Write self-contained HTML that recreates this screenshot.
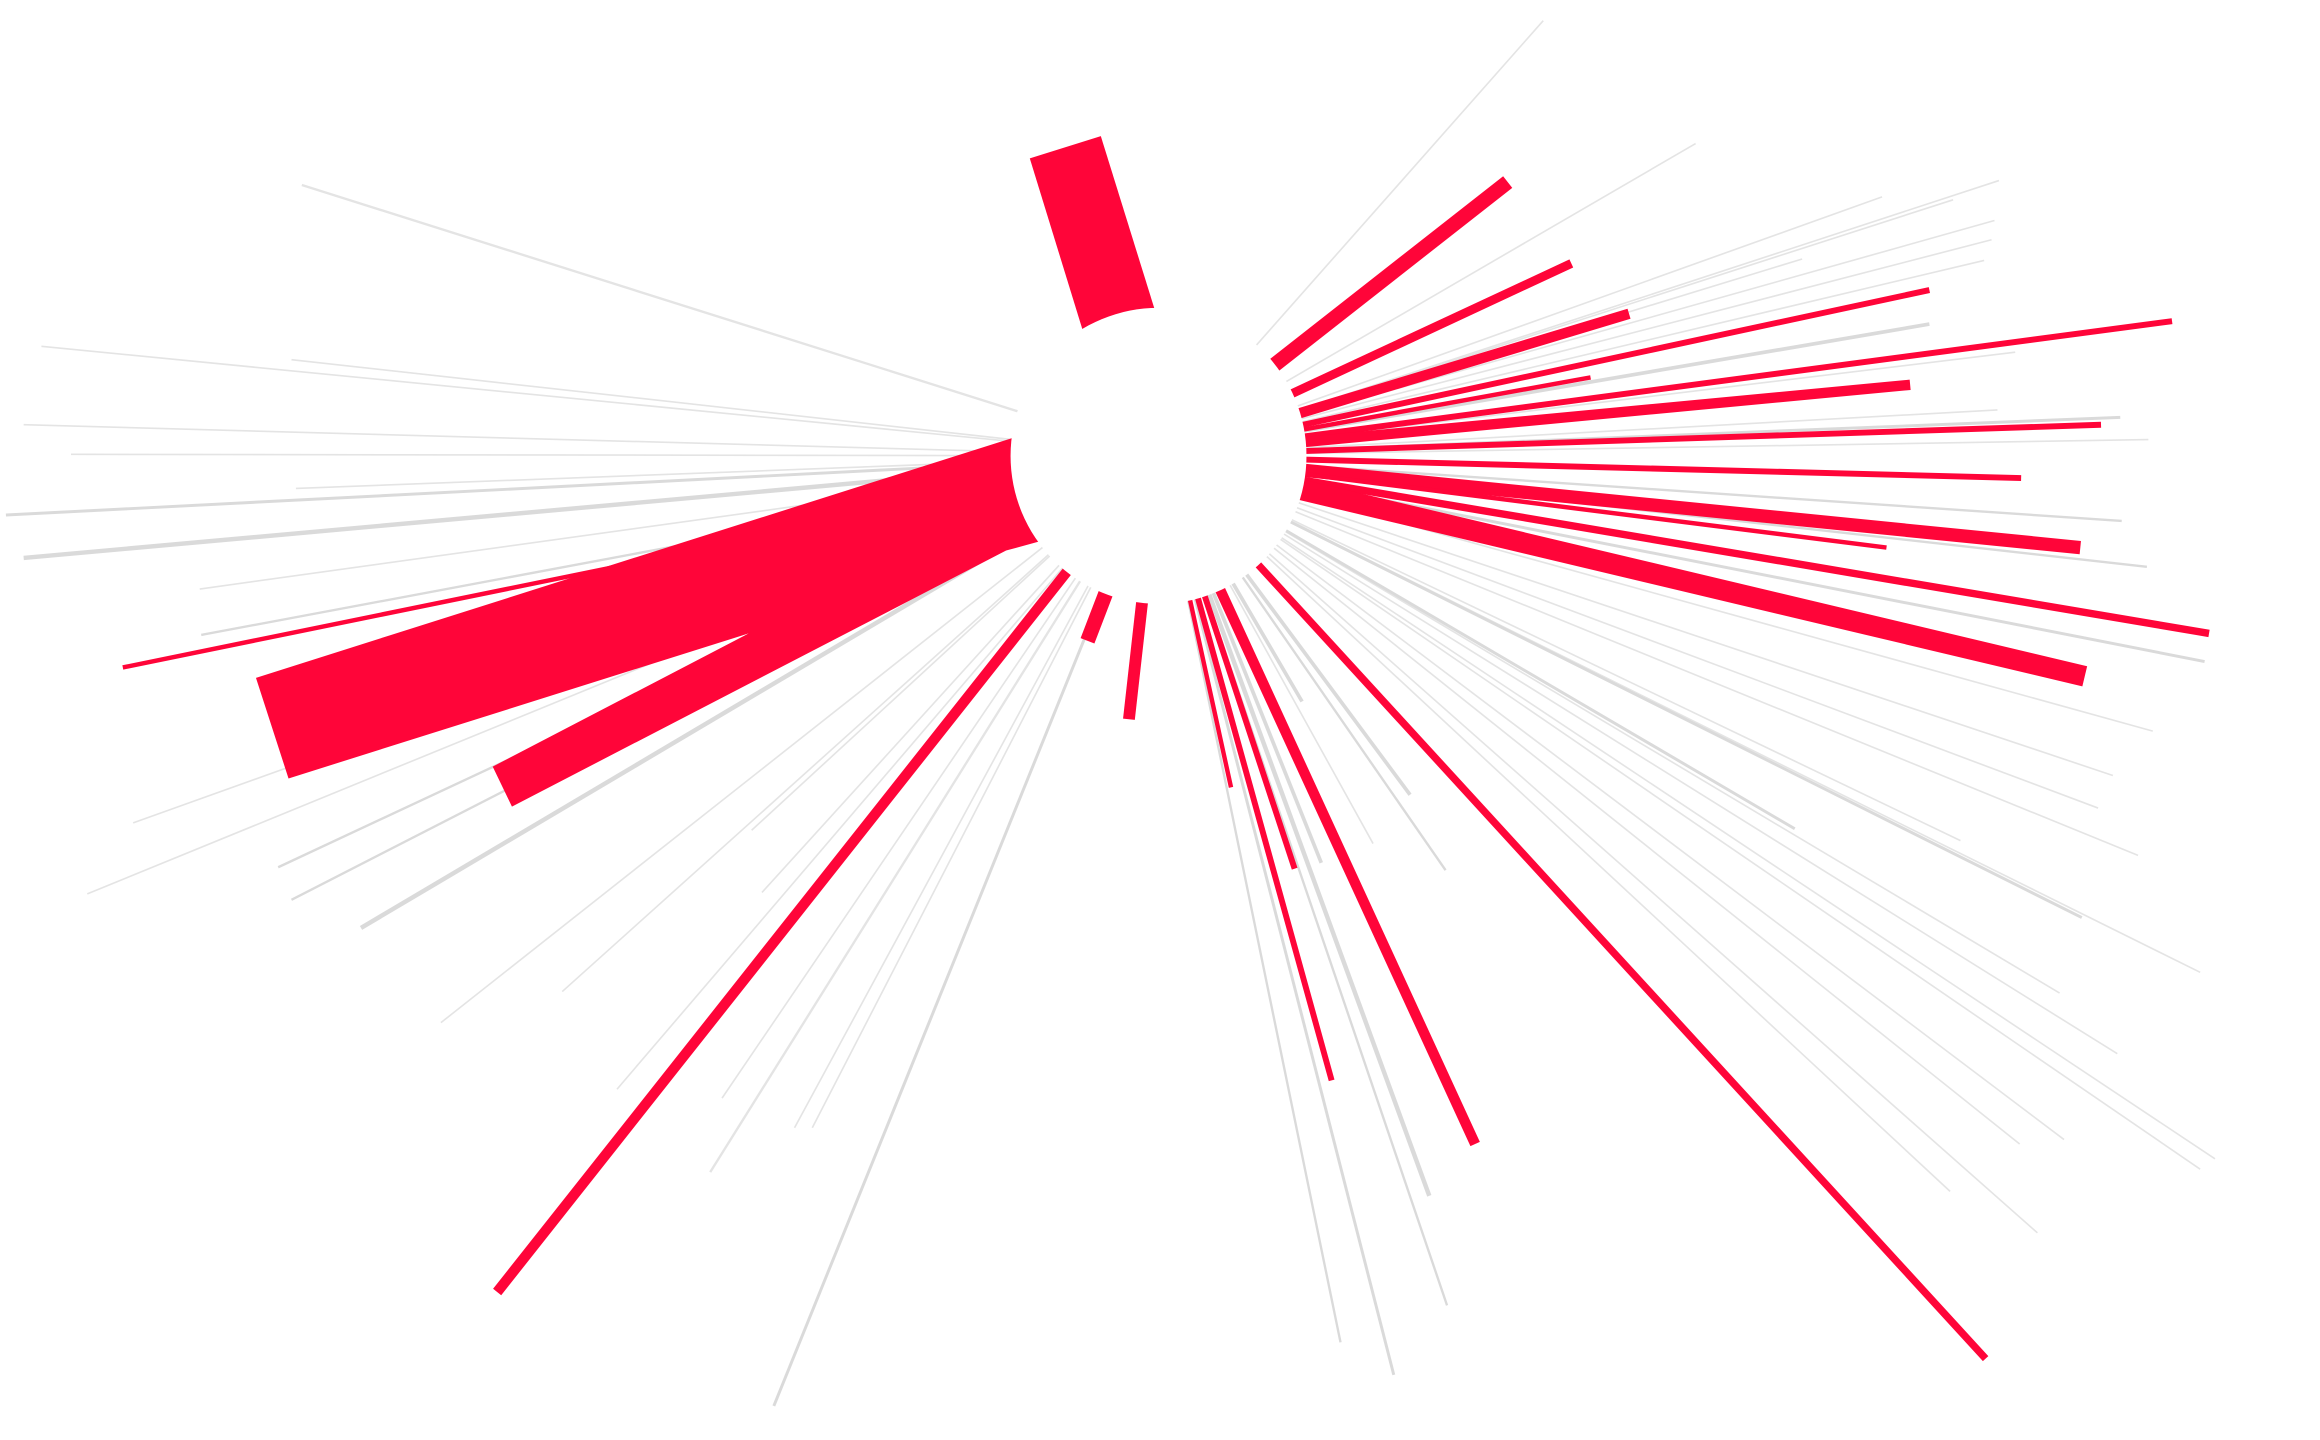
<!DOCTYPE html>
<html><head><meta charset="utf-8"><style>html,body{margin:0;padding:0;background:#fff;width:2320px;height:1440px;overflow:hidden}svg{display:block}</style></head>
<body>
<svg width="2320" height="1440" viewBox="0 0 1568 973" preserveAspectRatio="none" xmlns="http://www.w3.org/2000/svg">
<rect width="1568" height="973" fill="#fff"/>
<g stroke="#e4e4e4" stroke-width="1.1" fill="none">
<line x1="783" y1="308" x2="1043" y2="14"/>
<line x1="783" y1="308" x2="1146" y2="97"/>
<line x1="783" y1="308" x2="1272" y2="133"/>
<line x1="783" y1="308" x2="1351" y2="122"/>
<line x1="783" y1="308" x2="1320" y2="135"/>
<line x1="783" y1="308" x2="1348" y2="149"/>
<line x1="783" y1="308" x2="1346" y2="162"/>
<line x1="783" y1="308" x2="1341" y2="176"/>
<line x1="783" y1="308" x2="1218" y2="175"/>
<line x1="783" y1="308" x2="1304" y2="219" stroke-width="2.5" stroke="#dadada"/>
<line x1="783" y1="308" x2="1362" y2="238"/>
<line x1="783" y1="308" x2="1350" y2="277"/>
<line x1="783" y1="308" x2="1433" y2="282" stroke-width="2" stroke="#dadada"/>
<line x1="783" y1="308" x2="1452" y2="297"/>
<line x1="783" y1="308" x2="1434" y2="352" stroke-width="1.6" stroke="#dadada"/>
<line x1="783" y1="308" x2="1451" y2="383" stroke-width="1.6" stroke="#dadada"/>
<line x1="783" y1="308" x2="1490" y2="447" stroke-width="2" stroke="#dadada"/>
<line x1="783" y1="308" x2="1455" y2="494"/>
<line x1="783" y1="308" x2="1428" y2="524"/>
<line x1="783" y1="308" x2="1418" y2="546"/>
<line x1="783" y1="308" x2="1445" y2="578"/>
<line x1="783" y1="308" x2="1487" y2="657"/>
<line x1="783" y1="308" x2="1407" y2="620" stroke-width="2" stroke="#dadada"/>
<line x1="783" y1="308" x2="1392" y2="671"/>
<line x1="783" y1="308" x2="1431" y2="712"/>
<line x1="783" y1="308" x2="1395" y2="770"/>
<line x1="783" y1="308" x2="1365" y2="773"/>
<line x1="783" y1="308" x2="1497" y2="783"/>
<line x1="783" y1="308" x2="1487" y2="790"/>
<line x1="783" y1="308" x2="1377" y2="833"/>
<line x1="783" y1="308" x2="1318" y2="805"/>
<line x1="783" y1="308" x2="1325" y2="568"/>
<line x1="783" y1="308" x2="1213" y2="560" stroke-width="2" stroke="#dadada"/>
<line x1="783" y1="308" x2="977" y2="588" stroke-width="1.6" stroke="#dadada"/>
<line x1="783" y1="308" x2="953" y2="537" stroke-width="2.5" stroke="#dadada"/>
<line x1="783" y1="308" x2="928" y2="570"/>
<line x1="783" y1="308" x2="893" y2="583" stroke-width="2.5" stroke="#dadada"/>
<line x1="783" y1="308" x2="880" y2="474" stroke-width="2.5" stroke="#dadada"/>
<line x1="783" y1="308" x2="966" y2="808" stroke-width="3" stroke="#dadada"/>
<line x1="783" y1="308" x2="978" y2="882" stroke-width="1.6" stroke="#dadada"/>
<line x1="783" y1="308" x2="942" y2="929" stroke-width="2" stroke="#dadada"/>
<line x1="783" y1="308" x2="906" y2="907" stroke-width="1.6" stroke="#dadada"/>
<line x1="783" y1="308" x2="523" y2="950" stroke-width="2" stroke="#dadada"/>
<line x1="783" y1="308" x2="549" y2="762"/>
<line x1="783" y1="308" x2="537" y2="762"/>
<line x1="783" y1="308" x2="480" y2="792" stroke-width="1.6"/>
<line x1="783" y1="308" x2="488" y2="742"/>
<line x1="783" y1="308" x2="417" y2="736"/>
<line x1="783" y1="308" x2="515" y2="603"/>
<line x1="783" y1="308" x2="508" y2="561"/>
<line x1="783" y1="308" x2="380" y2="670"/>
<line x1="783" y1="308" x2="298" y2="691"/>
<line x1="783" y1="308" x2="244" y2="627" stroke-width="3" stroke="#dadada"/>
<line x1="783" y1="308" x2="197" y2="608" stroke-width="1.6" stroke="#dadada"/>
<line x1="783" y1="308" x2="188" y2="586" stroke-width="1.6" stroke="#dadada"/>
<line x1="783" y1="308" x2="59" y2="604"/>
<line x1="783" y1="308" x2="90" y2="556"/>
<line x1="783" y1="308" x2="136" y2="429" stroke-width="1.6" stroke="#dadada"/>
<line x1="783" y1="308" x2="135" y2="398"/>
<line x1="783" y1="308" x2="16" y2="377" stroke-width="3" stroke="#dadada"/>
<line x1="783" y1="308" x2="4" y2="348" stroke-width="2" stroke="#dadada"/>
<line x1="783" y1="308" x2="200" y2="330"/>
<line x1="783" y1="308" x2="48" y2="307"/>
<line x1="783" y1="308" x2="16" y2="287"/>
<line x1="783" y1="308" x2="28" y2="234"/>
<line x1="783" y1="308" x2="197" y2="243"/>
<line x1="783" y1="308" x2="204" y2="125" stroke-width="1.6"/>
</g>
<g stroke="#ff0539" fill="none">
<line x1="783" y1="308" x2="1019" y2="123" stroke-width="10"/>
<line x1="783" y1="308" x2="1062" y2="178" stroke-width="6"/>
<line x1="783" y1="308" x2="1101" y2="212" stroke-width="7"/>
<line x1="783" y1="308" x2="1304" y2="196" stroke-width="4"/>
<line x1="783" y1="308" x2="1075" y2="255" stroke-width="3"/>
<line x1="783" y1="308" x2="1468" y2="217" stroke-width="4"/>
<line x1="783" y1="308" x2="1291" y2="260" stroke-width="7"/>
<line x1="783" y1="308" x2="1420" y2="287" stroke-width="4"/>
<line x1="783" y1="308" x2="1366" y2="323" stroke-width="4"/>
<line x1="783" y1="308" x2="1406" y2="370" stroke-width="9"/>
<line x1="783" y1="308" x2="1275" y2="370" stroke-width="3"/>
<line x1="783" y1="308" x2="1493" y2="428" stroke-width="5"/>
<line x1="783" y1="308" x2="1409" y2="457" stroke-width="14"/>
<line x1="783" y1="308" x2="1342" y2="918" stroke-width="5"/>
<line x1="783" y1="308" x2="997" y2="773" stroke-width="7"/>
<line x1="783" y1="308" x2="900" y2="730" stroke-width="4"/>
<line x1="783" y1="308" x2="875" y2="587" stroke-width="4"/>
<line x1="783" y1="308" x2="832" y2="532" stroke-width="3"/>
<line x1="783" y1="308" x2="763" y2="486" stroke-width="8"/>
<line x1="783" y1="308" x2="735" y2="433" stroke-width="10"/>
<line x1="783" y1="308" x2="336" y2="873" stroke-width="7"/>
<line x1="783" y1="308" x2="83" y2="451" stroke-width="3"/>
</g>
<polygon fill="#ff0539" points="696,107 744,92 790,240 740,250"/>
<polygon fill="#ff0539" points="684,296 173,458 195,526 506,428 333,518 346,545 680,372 702,366 783,308"/>
<circle cx="783" cy="308" r="100" fill="#fff"/>
</svg>
</body></html>
